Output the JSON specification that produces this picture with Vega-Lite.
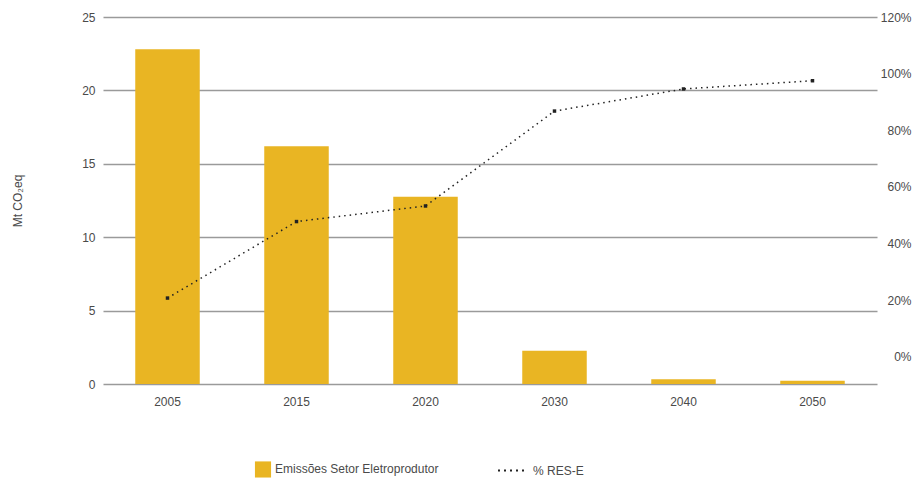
{
  "$schema": "https://vega.github.io/schema/vega-lite/v6.json",
  "autosize": "none",
  "width": 755,
  "height": 367,
  "padding": {"left": 106, "top": 17, "right": 54, "bottom": 95},
  "background": "white",
  "config": {
    "view": {"stroke": null},
    "font": "Liberation Sans",
    "axis": {"labelFont": "Liberation Sans", "labelFontSize": 12, "labelColor": "#4a4a4a", "titleFont": "Liberation Sans", "titleColor": "#4a4a4a"},
    "legend": {"labelFont": "Liberation Sans", "labelFontSize": 12, "labelColor": "#4a4a4a", "labelLimit": 0}
  },
  "data": {
    "values": [
      {"ano": "2005", "emissoes": 22.8, "res": 0.208},
      {"ano": "2015", "emissoes": 16.2, "res": 0.478},
      {"ano": "2020", "emissoes": 12.75, "res": 0.533},
      {"ano": "2030", "emissoes": 2.27, "res": 0.868},
      {"ano": "2040", "emissoes": 0.33, "res": 0.946},
      {"ano": "2050", "emissoes": 0.22, "res": 0.975}
    ]
  },
  "encoding": {
    "x": {
      "field": "ano",
      "type": "ordinal",
      "scale": {"range": [-3, 771], "paddingInner": 0.5, "paddingOuter": 0.25},
      "axis": {"title": null, "labelAngle": 0, "domain": false, "ticks": false, "labelPadding": 12}
    }
  },
  "layer": [
    {
      "mark": {"type": "bar"},
      "encoding": {
        "y": {
          "field": "emissoes",
          "type": "quantitative",
          "scale": {"domain": [0, 25], "nice": false},
          "axis": {
            "values": [0, 5, 10, 15, 20, 25],
            "title": "Mt CO₂eq",
            "titleFontSize": 12,
            "titleFontWeight": "normal",
            "titlePadding": 57,
            "grid": true,
            "gridColor": "#9a9a9a",
            "gridWidth": 1.3,
            "domain": false,
            "ticks": false,
            "labelPadding": 11
          }
        },
        "color": {
          "datum": "Emissões Setor Eletroprodutor",
          "scale": {"domain": ["Emissões Setor Eletroprodutor", "% RES-E"], "range": ["#E9B523", "#222222"]},
          "legend": {
            "orient": "none",
            "legendX": 151,
            "legendY": 446,
            "direction": "horizontal",
            "title": null,
            "columnPadding": 55,
            "symbolSize": 260,
            "labelOffset": 6,
            "labelLimit": 0,
            "encode": {
              "labels": {
                "update": {
                  "dx": {"signal": "datum.value === '% RES-E' ? 8 : 0"}
                }
              },
              "symbols": {
                "update": {
                  "shape": {"signal": "datum.value === '% RES-E' ? 'stroke' : 'square'"},
                  "size": {"signal": "datum.value === '% RES-E' ? 900 : 260"},
                  "strokeDash": {"signal": "datum.value === '% RES-E' ? [2, 4] : [1, 0]"},
                  "strokeWidth": {"signal": "datum.value === '% RES-E' ? 2 : 0"},
                  "stroke": {"signal": "datum.value === '% RES-E' ? '#222222' : 'transparent'"},
                  "fill": {"signal": "datum.value === '% RES-E' ? 'transparent' : '#E9B523'"},
                  "opacity": {"value": 1}
                }
              }
            }
          }
        }
      }
    },
    {
      "mark": {"type": "line", "strokeWidth": 1.5, "strokeDash": [1.5, 4], "point": {"filled": true, "shape": "square", "size": 12}},
      "encoding": {
        "y": {
          "field": "res",
          "type": "quantitative",
          "scale": {"domain": [-0.0953, 1.2], "nice": false, "zero": false},
          "axis": {
            "orient": "right",
            "values": [0, 0.2, 0.4, 0.6, 0.8, 1.0, 1.2],
            "format": ".0%",
            "title": null,
            "grid": false,
            "domain": false,
            "ticks": false,
            "labelAlign": "right",
            "labelPadding": 50
          }
        },
        "color": {"datum": "% RES-E"}
      }
    }
  ],
  "resolve": {"scale": {"y": "independent"}}
}
